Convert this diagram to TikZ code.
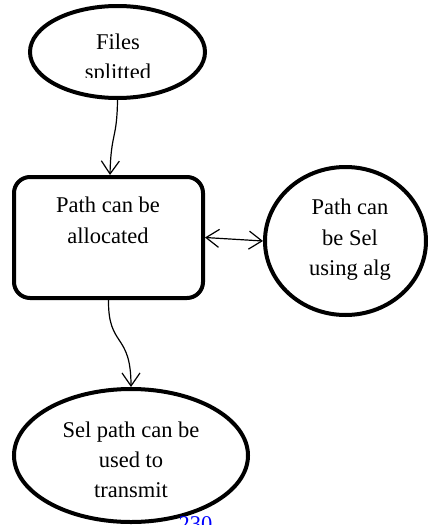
\documentclass[tikz,border=0pt]{standalone}
\usepackage{fontspec}
\setmainfont{Liberation Serif}
\usetikzlibrary{arrows.meta,shapes.geometric}
\begin{document}
\begin{tikzpicture}[x=1pt,y=-1pt,
  shapeline/.style={draw=black,line width=4pt},
  oval/.style={shapeline,ellipse,inner sep=0pt},
  txt/.style={font=\fontsize{22.5}{30}\selectfont,anchor=base,inner sep=0pt},
  barb/.tip={Straight Barb[length=13pt,width=18pt,line width=1.2pt]},
  conn/.style={draw=black,line width=1.2pt,-barb},
  ]
\useasboundingbox (0,0) rectangle (428,525);
% shapes
\node[oval,minimum width=175pt,minimum height=92pt] (files) at (117.5,52) {};
\node[shapeline,rounded corners=16pt,minimum width=189pt,minimum height=121pt,inner sep=0pt] (box) at (108.5,237.5) {};
\node[oval,minimum width=161pt,minimum height=148pt] (sel) at (345.5,241) {};
\node[oval,minimum width=234pt,minimum height=133pt] (send) at (131,455.5) {};
% texts
\begin{scope}
  \clip (25,0) rectangle (210,77);
  \node[txt] (t1a) at (118,49) {Files};
  \node[txt] (t1b) at (118,79) {splitted};
\end{scope}
\node[txt] (t2a) at (108,212.5) {Path can be};
\node[txt] (t2b) at (108,243) {allocated};
\node[txt] (t3a) at (350,214) {Path can};
\node[txt] (t3b) at (350,245) {be Sel};
\node[txt] (t3c) at (350,275) {using alg};
\node[txt] (t4a) at (131,437) {Sel path can be};
\node[txt] (t4b) at (131,467) {used to};
\node[txt] (t4c) at (131,497) {transmit};
\begin{scope}
  \clip (0,0) rectangle (428,525);
  \node[txt,text=blue] (pg) at (195.5,531) {230};
\end{scope}
% connectors
\draw[conn] (files.south) .. controls (117,140) and (111,132) .. ([xshift=1.5pt]box.north);
\draw[draw=black,line width=1.2pt,barb-barb] (box.east) -- (sel.west);
\draw[conn] (box.south) .. controls (108,348) and (131,332) .. (send.north);
\end{tikzpicture}
\end{document}
